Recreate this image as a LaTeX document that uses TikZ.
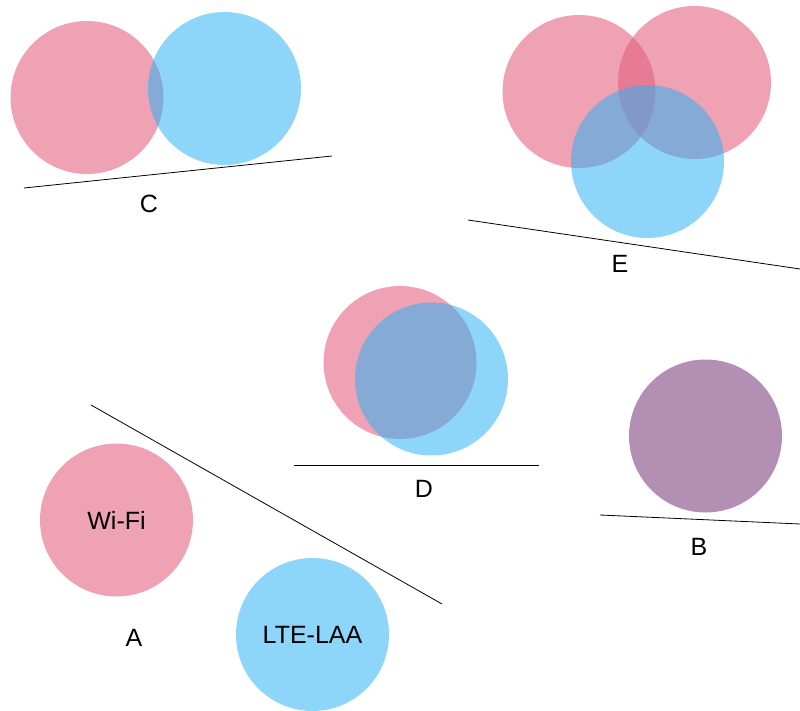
\documentclass[tikz,border=0pt]{standalone}
\usepackage{fontspec}
\setmainfont{Liberation Sans}
\definecolor{wifi}{RGB}{226,95,126}
\definecolor{lte}{RGB}{44,178,243}
\definecolor{merged}{RGB}{180,143,180}
\tikzset{
  disc/.style={circle, minimum size=153pt, inner sep=0pt, draw=none,
    font=\fontsize{25}{30}\selectfont},
  wifidisc/.style={disc, fill=wifi, fill opacity=0.58, text opacity=1},
  ltedisc/.style={disc, fill=lte, fill opacity=0.54, text opacity=1},
  mergeddisc/.style={disc, fill=merged},
  baseline/.style={draw=black, line width=0.8pt},
  caption/.style={font=\fontsize{25}{30}\selectfont, inner sep=0pt}
}
\begin{document}
\begin{tikzpicture}[x=1pt, y=-1pt]
\useasboundingbox (0,0) rectangle (800,711);

% Case C
\node[wifidisc] (c1) at (87,97.5) {};
\node[ltedisc]  (c2) at (224.5,88.5) {};
\coordinate (cl) at (24,188);
\coordinate (cr) at (332,156);
\draw[baseline] (cl) -- (cr);
\node[caption] (lc) at (149,204) {C};

% Case E
\node[wifidisc] (e1) at (579,91.5) {};
\node[wifidisc] (e2) at (694.5,82.5) {};
\node[ltedisc]  (e3) at (647.5,161.5) {};
\coordinate (el) at (468,220);
\coordinate (er) at (800,269);
\draw[baseline] (el) -- (er);
\node[caption] (le) at (620,264) {E};

% Case D
\node[wifidisc] (d1) at (400,362.5) {};
\node[ltedisc]  (d2) at (431.5,379) {};
\coordinate (dl) at (294,465);
\coordinate (dr) at (539,465);
\draw[baseline] (dl) -- (dr);
\node[caption] (ld) at (424,489) {D};

% Case B
\node[mergeddisc] (b1) at (705.5,436) {};
\coordinate (bl) at (600,515);
\coordinate (br) at (800,524);
\draw[baseline] (bl) -- (br);
\node[caption] (lb) at (699,547) {B};

% Case A
\node[wifidisc] (wifi) at (116.5,520) {Wi-Fi};
\node[ltedisc]  (lte)  at (312.5,634.5) {LTE-LAA};
\coordinate (al) at (91,405);
\coordinate (ar) at (442,604);
\draw[baseline] (al) -- (ar);
\node[caption] (la) at (134,638) {A};
\end{tikzpicture}
\end{document}
